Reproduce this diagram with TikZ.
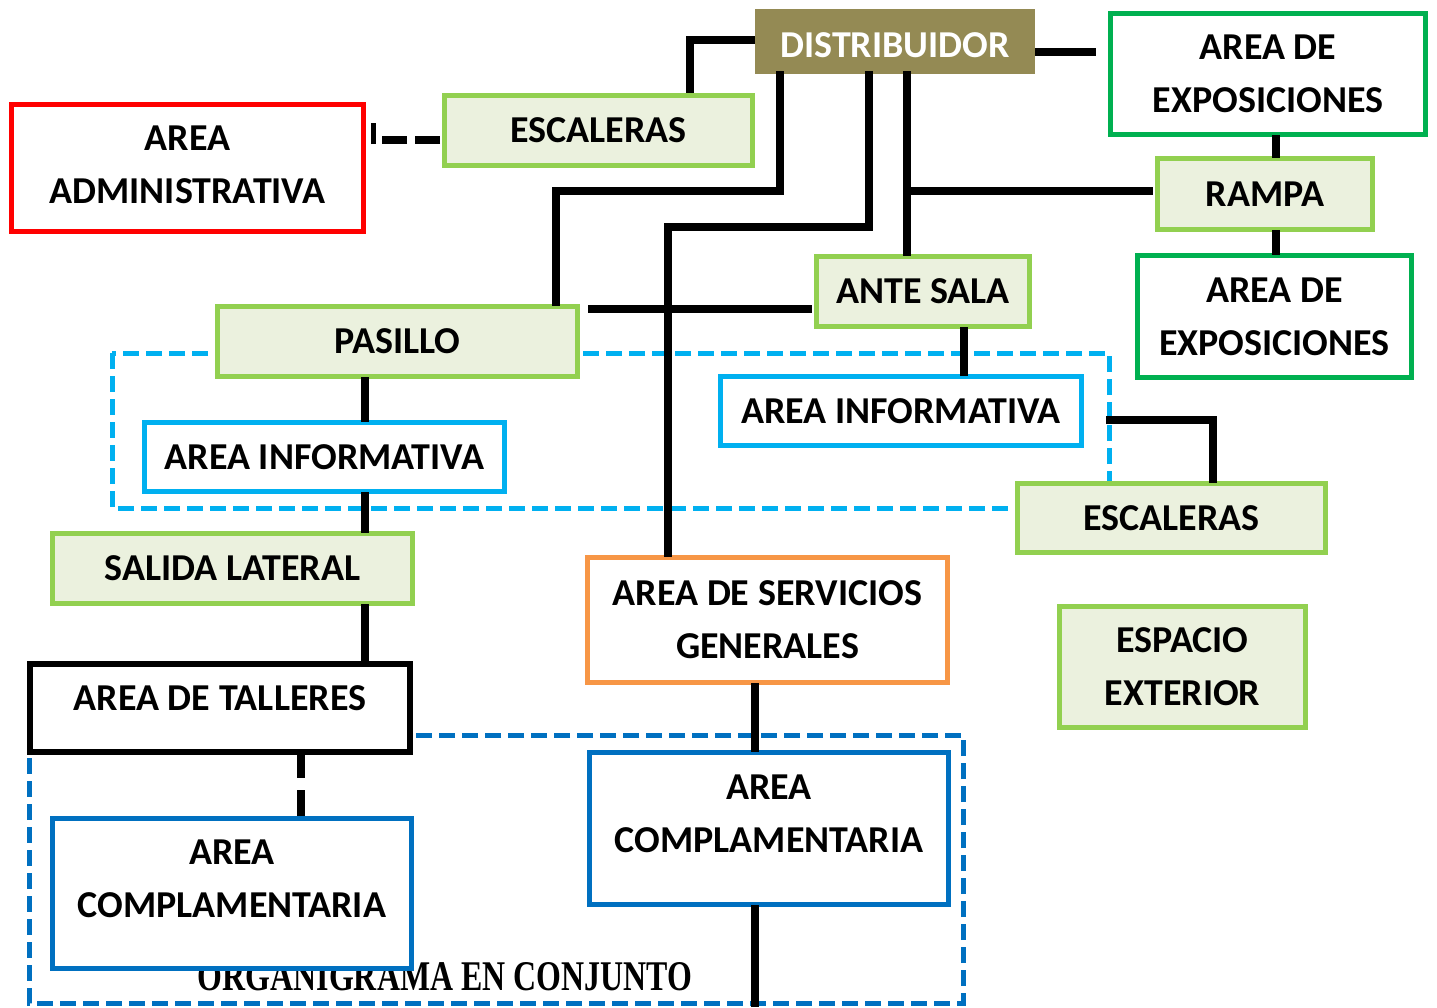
\documentclass[tikz,border=0pt]{standalone}
\usepackage{fontspec}
\setmainfont{Carlito}
\newfontfamily\titlefont{Liberation Serif}
\usepackage{graphicx}
\definecolor{olive}{HTML}{948A54}
\definecolor{lgfill}{HTML}{EBF1DE}
\definecolor{lgline}{HTML}{92D050}
\definecolor{dgreen}{HTML}{00B050}
\definecolor{cyanb}{HTML}{00B0F0}
\definecolor{orangeb}{HTML}{F79646}
\definecolor{blueb}{HTML}{0070C0}
\tikzset{
  base/.style={rectangle, inner sep=0pt, align=center,
    font=\fontsize{38}{53}\selectfont\bfseries},
  greenbox/.style={base, draw=lgline, fill=lgfill, line width=5pt},
  outbox/.style={base, draw=#1, fill=white, line width=5pt},
  conn/.style={line width=7.5pt, line cap=butt, line join=miter},
  dconn/.style={conn, dash pattern=on 26pt off 12pt},
  frame/.style={line width=5pt, dash pattern=on 16pt off 7pt},
}
\begin{document}
\begin{tikzpicture}[x=1pt,y=-1pt]
\useasboundingbox (0,0) rectangle (1437,1007);
% frames
\draw[frame, cyanb] (112,353) rectangle (1109,508);
\draw[frame, blueb] (29,735) rectangle (963,1003);
% title
\node[inner sep=0pt, anchor=base] (title) at (445,990)
  {\resizebox{494pt}{28pt}{\titlefont\bfseries ORGANIGRAMA EN CONJUNTO}};
% free ends
\coordinate (e1) at (1096,52);
\coordinate (r1) at (1106,420);
\coordinate (bot) at (755,1007);
\coordinate (tick) at (373,140);
% nodes
\node[base, fill=olive, text=white, minimum width=280pt, minimum height=65pt, text height=33pt] (dist) at (895,41.5) {DISTRIBUIDOR};
\node[outbox=dgreen, minimum width=315pt, minimum height=121pt] (exp1) at (1268,74) {AREA DE\\EXPOSICIONES};
\node[greenbox, minimum width=308pt, minimum height=70pt] (esc1) at (598.5,130.5) {ESCALERAS};
\node[outbox=red, minimum width=352pt, minimum height=127pt, text depth=6pt] (adm) at (187.5,168) {AREA\\ADMINISTRATIVA};
\node[greenbox, minimum width=215pt, minimum height=71pt] (rampa) at (1265,194) {RAMPA};
\node[outbox=dgreen, minimum width=274pt, minimum height=122pt] (exp2) at (1274.5,316.5) {AREA DE\\EXPOSICIONES};
\node[greenbox, minimum width=213pt, minimum height=70pt] (ante) at (923,291.5) {ANTE SALA};
\node[greenbox, minimum width=360pt, minimum height=70pt] (pasillo) at (397.5,341.5) {PASILLO};
\node[outbox=cyanb, minimum width=361pt, minimum height=69pt] (infoR) at (901,411) {AREA INFORMATIVA};
\node[outbox=cyanb, minimum width=360pt, minimum height=69pt] (infoL) at (324.5,457) {AREA INFORMATIVA};
\node[greenbox, minimum width=308pt, minimum height=69pt] (esc2) at (1171.5,518) {ESCALERAS};
\node[greenbox, minimum width=360pt, minimum height=70pt] (salida) at (232.5,568.5) {SALIDA LATERAL};
\node[outbox=orangeb, minimum width=360pt, minimum height=125pt] (serv) at (767.5,620) {AREA DE SERVICIOS\\GENERALES};
\node[greenbox, minimum width=246pt, minimum height=121pt] (esp) at (1182.5,667) {ESPACIO\\EXTERIOR};
\node[outbox=black, line width=6pt, minimum width=380pt, minimum height=88pt, text depth=20pt] (tall) at (220,708) {AREA DE TALLERES};
\node[outbox=blueb, minimum width=359pt, minimum height=152pt, text depth=30pt] (compR) at (769,828.5) {AREA\\COMPLAMENTARIA};
\node[outbox=blueb, minimum width=359pt, minimum height=150pt, text depth=30pt] (compL) at (232,893.5) {AREA\\COMPLAMENTARIA};
% lines
\draw[conn] (dist.west |- 0,40) -- (690,40) -- (esc1.north -| 690,0);
\draw[conn] (dist.east |- 0,52) -- (e1);
\draw[conn] ([yshift=3pt]dist.south -| 780,0) -- (780,191) -- (556,191) -- ([yshift=-2pt]pasillo.north -| 556,0);
\draw[conn] ([yshift=3pt]dist.south -| 869,0) -- (869,227) -- (668,227) -- ([yshift=-2pt]serv.north -| 668,0);
\draw[conn] ([yshift=3pt]dist.south -| 907,0) -- ([yshift=-2pt]ante.north -| 907,0);
\draw[conn] (907,191) -- ([xshift=-2pt]rampa.west |- 0,191);
\draw[conn] ([yshift=2pt]exp1.south -| 1276,0) -- ([yshift=-2pt]rampa.north -| 1276,0);
\draw[conn] ([yshift=2pt]rampa.south -| 1276,0) -- ([yshift=-2pt]exp2.north -| 1276,0);
\draw[conn] ([xshift=8pt]pasillo.east |- 0,309) -- ([xshift=-2pt]ante.west |- 0,309);
\draw[conn] ([yshift=2pt]ante.south -| 964,0) -- ([yshift=-2pt]infoR.north -| 964,0);
\draw[conn] ([yshift=2pt]pasillo.south -| 365,0) -- ([yshift=-2pt]infoL.north -| 365,0);
\draw[conn] ([yshift=2pt]infoL.south -| 365,0) -- ([yshift=-2pt]salida.north -| 365,0);
\draw[conn] ([yshift=2pt]salida.south -| 365,0) -- ([yshift=-2pt]tall.north -| 365,0);
\draw[conn] (r1) -- (1213,420) -- ([yshift=-2pt]esc2.north -| 1213,0);
\draw[conn] ([yshift=2pt]serv.south -| 755,0) -- ([yshift=-2pt]compR.north -| 755,0);
\draw[conn] ([yshift=2pt]compR.south -| 755,0) -- (bot);
\draw[dconn] ([yshift=3pt]tall.south -| 301,0) -- ([yshift=-2pt]compL.north -| 301,0);
\draw[conn, dash pattern=on 25pt off 8pt] ([xshift=-2pt]esc1.west |- 0,140) -- (tick);
\draw[line width=5pt] ([yshift=-4pt]tick) -- ([yshift=17pt]tick);
\end{tikzpicture}
\end{document}
